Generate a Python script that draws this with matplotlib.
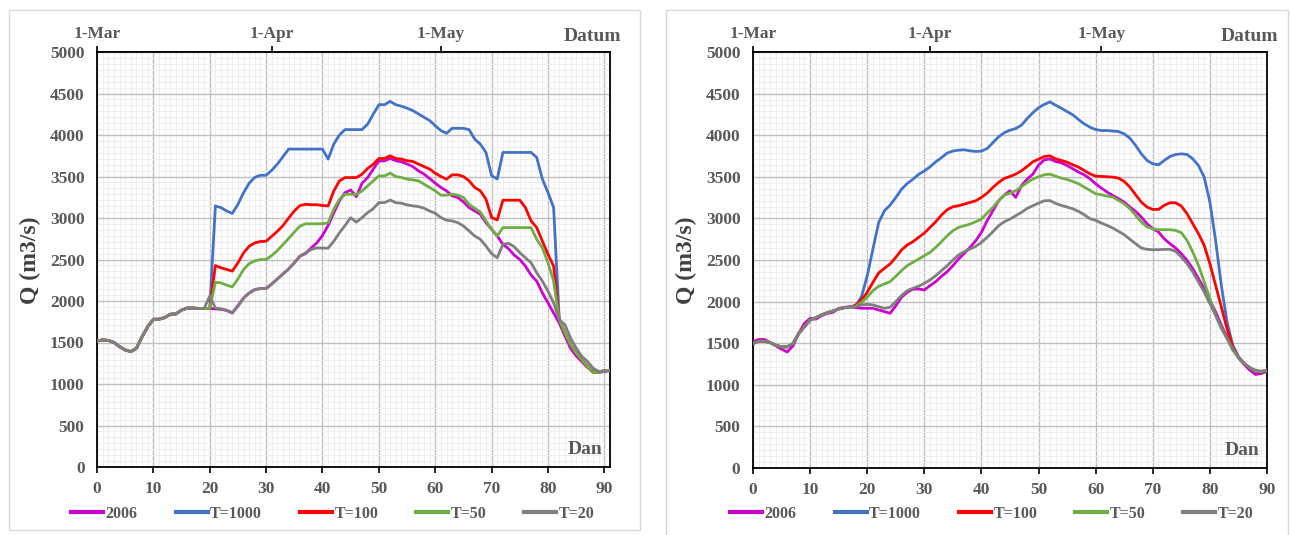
import matplotlib
matplotlib.use("Agg")
import matplotlib.pyplot as plt
from matplotlib.patches import Rectangle
from matplotlib.ticker import MultipleLocator, AutoMinorLocator
from matplotlib.lines import Line2D

# ---------------- data ----------------
series_names = ["2006", "T=1000", "T=100", "T=50", "T=20"]
series_colors = ["#CC00CC", "#4472C4", "#FF0000", "#70AD47", "#7F7F7F"]

top_tick_days = [0, 31, 61]
top_tick_labels = ["1-Mar", "1-Apr", "1-May"]
y_ticks = [0, 500, 1000, 1500, 2000, 2500, 3000, 3500, 4000, 4500, 5000]
x_ticks = [0, 10, 20, 30, 40, 50, 60, 70, 80, 90]

# Left panel (days 0..91), common start days 0..19
left_common = [1520, 1530, 1525, 1500, 1450, 1410, 1390, 1430, 1570, 1690,
               1780, 1780, 1800, 1840, 1845, 1890, 1915, 1915, 1910, 1910]
left_2006 = left_common + [
    1910, 1905, 1900, 1887, 1855, 1944, 2036, 2097, 2137, 2150, 2150,
    2205, 2266, 2326, 2387, 2460, 2540, 2572, 2640, 2700, 2790,
    2910, 3064, 3205, 3306, 3338, 3257, 3418, 3487, 3588, 3688,
    3688, 3717, 3690, 3678, 3650, 3621, 3569, 3529, 3476, 3420,
    3368, 3327, 3267, 3247, 3194, 3125, 3085, 3045, 2944, 2864,
    2783, 2683, 2630, 2554, 2500, 2420, 2312, 2240, 2098, 1977,
    1856, 1735, 1580, 1430, 1340, 1270, 1200, 1150, 1140, 1150, 1160]
left_t1000 = left_common + [
    1910, 3145, 3125, 3085, 3055, 3165, 3305, 3420, 3490, 3515, 3515,
    3575, 3650, 3740, 3830, 3830, 3830, 3830, 3830, 3830, 3830,
    3710, 3890, 4000, 4065, 4065, 4065, 4065, 4130, 4250, 4365,
    4365, 4405, 4365, 4347, 4323, 4295, 4254, 4214, 4174, 4113,
    4053, 4020, 4081, 4081, 4080, 4065, 3950, 3890, 3790, 3510,
    3470, 3790, 3790, 3790, 3790, 3790, 3790, 3730, 3470, 3307,
    3125, 1775, 1614, 1473, 1373, 1292, 1211, 1140, 1140, 1165, 1160]
left_t100 = left_common + [
    1910, 2427, 2400, 2380, 2360, 2460, 2580, 2660, 2700, 2717, 2720,
    2780, 2840, 2910, 3000, 3085, 3150, 3165, 3160, 3160, 3150,
    3145, 3325, 3447, 3487, 3487, 3487, 3527, 3596, 3648, 3717,
    3717, 3750, 3717, 3710, 3690, 3682, 3650, 3620, 3590, 3540,
    3500, 3468, 3520, 3520, 3500, 3448, 3368, 3327, 3226, 3005,
    2977, 3214, 3214, 3214, 3214, 3125, 2965, 2884, 2723, 2562,
    2420, 1775, 1614, 1473, 1373, 1292, 1211, 1140, 1140, 1165, 1160]
left_t50 = left_common + [
    1910, 2226, 2218, 2190, 2170, 2266, 2380, 2450, 2484, 2500, 2500,
    2548, 2608, 2681, 2754, 2830, 2903, 2930, 2930, 2930, 2930,
    2943, 3104, 3225, 3285, 3285, 3285, 3325, 3386, 3447, 3507,
    3507, 3540, 3500, 3488, 3468, 3460, 3448, 3408, 3368, 3327,
    3275, 3275, 3287, 3275, 3247, 3166, 3118, 3073, 2965, 2864,
    2783, 2884, 2884, 2884, 2884, 2884, 2884, 2743, 2642, 2460,
    2240, 1775, 1614, 1473, 1373, 1292, 1211, 1140, 1140, 1165, 1160]
left_t20 = left_common + [
    2060, 1915, 1907, 1887, 1863, 1935, 2036, 2097, 2137, 2150, 2150,
    2205, 2266, 2326, 2387, 2460, 2540, 2580, 2620, 2640, 2637,
    2637, 2720, 2822, 2910, 3003, 2950, 3003, 3064, 3112, 3185,
    3185, 3217, 3185, 3178, 3158, 3146, 3138, 3118, 3085, 3057,
    3005, 2973, 2965, 2944, 2904, 2844, 2783, 2743, 2662, 2570,
    2521, 2683, 2695, 2654, 2582, 2521, 2460, 2340, 2240, 2118,
    1977, 1775, 1715, 1554, 1433, 1333, 1272, 1191, 1151, 1151, 1171]
left_days = list(range(len(left_2006)))

# Right panel (days 0..90), common start days 0..17 for T-series
right_common = [1496, 1524, 1524, 1508, 1476, 1456, 1456, 1496, 1617, 1698,
                1778, 1806, 1839, 1867, 1887, 1911, 1927, 1931]
right_2006 = [
    1516, 1545, 1545, 1508, 1468, 1428, 1395, 1468, 1617, 1738,
    1798, 1790, 1830, 1859, 1871, 1919, 1931, 1940, 1927, 1920,
    1920, 1920, 1900, 1880, 1860, 1950, 2052, 2112, 2150, 2152,
    2140, 2192, 2240, 2304, 2360, 2432, 2512, 2580, 2652, 2732,
    2832, 2972, 3092, 3212, 3280, 3332, 3252, 3392, 3472, 3532,
    3640, 3704, 3714, 3684, 3668, 3636, 3596, 3556, 3524, 3476,
    3416, 3364, 3316, 3276, 3236, 3196, 3136, 3084, 3016, 2936,
    2876, 2836, 2756, 2696, 2644, 2576, 2496, 2396, 2276, 2156,
    2016, 1876, 1716, 1576, 1436, 1324, 1244, 1176, 1124, 1136, 1164]
right_t1000 = right_common + [
    1950, 2060, 2310, 2630, 2950, 3090, 3160, 3250, 3350, 3420, 3470, 3530,
    3570, 3620, 3680, 3730, 3785, 3810, 3820, 3825, 3812, 3805,
    3808, 3840, 3910, 3980, 4030, 4060, 4080, 4120, 4200, 4270,
    4330, 4370, 4400, 4360, 4324, 4284, 4244, 4188, 4136, 4096,
    4068, 4056, 4056, 4050, 4044, 4016, 3964, 3876, 3776, 3696,
    3656, 3644, 3696, 3744, 3768, 3776, 3768, 3716, 3636, 3496,
    3196, 2736, 2196, 1756, 1476, 1336, 1256, 1204, 1164, 1156, 1176]
right_t100 = right_common + [
    1960, 2020, 2112, 2232, 2344, 2400, 2452, 2532, 2620, 2680, 2720, 2772,
    2824, 2892, 2960, 3040, 3104, 3140, 3152, 3172, 3192, 3212,
    3252, 3304, 3372, 3432, 3480, 3504, 3532, 3572, 3624, 3680,
    3712, 3744, 3752, 3716, 3696, 3676, 3644, 3616, 3576, 3536,
    3508, 3505, 3500, 3496, 3484, 3444, 3376, 3284, 3196, 3136,
    3108, 3108, 3156, 3188, 3188, 3148, 3056, 2936, 2816, 2676,
    2456, 2196, 1936, 1676, 1456, 1336, 1256, 1204, 1164, 1156, 1176]
right_t50 = right_common + [
    1945, 1990, 2052, 2132, 2184, 2212, 2240, 2304, 2372, 2432, 2472, 2512,
    2552, 2592, 2652, 2720, 2792, 2852, 2892, 2912, 2932, 2960,
    2992, 3064, 3132, 3212, 3280, 3304, 3332, 3380, 3432, 3472,
    3500, 3525, 3532, 3508, 3484, 3468, 3444, 3416, 3376, 3336,
    3296, 3284, 3268, 3256, 3216, 3176, 3116, 3036, 2956, 2896,
    2876, 2864, 2864, 2864, 2856, 2828, 2736, 2596, 2436, 2236,
    2036, 1836, 1676, 1556, 1416, 1330, 1256, 1204, 1164, 1156, 1176]
right_t20 = right_common + [
    1940, 1960, 1968, 1960, 1940, 1920, 1932, 2000, 2072, 2132, 2160, 2184,
    2220, 2260, 2312, 2372, 2432, 2500, 2560, 2600, 2632, 2664,
    2712, 2772, 2840, 2912, 2960, 2992, 3032, 3072, 3120, 3152,
    3184, 3212, 3214, 3180, 3156, 3136, 3116, 3084, 3044, 2996,
    2976, 2944, 2916, 2884, 2844, 2804, 2748, 2696, 2644, 2628,
    2624, 2624, 2628, 2628, 2604, 2536, 2456, 2356, 2236, 2116,
    1976, 1836, 1696, 1556, 1436, 1336, 1256, 1204, 1176, 1164, 1176]
right_days = list(range(len(right_2006)))

# ---------------- figure ----------------
W, H = 1290, 535
fig = plt.figure(figsize=(W / 100, H / 100), dpi=100)
fig.patch.set_facecolor("white")

SERIF = ["Liberation Serif", "DejaVu Serif"]
TXT = "#595959"

def px_rect(x0, x1, ytop, ybot):
    return [x0 / W, 1 - ybot / H, (x1 - x0) / W, (ybot - ytop) / H]

# panel borders
fig.patches.append(Rectangle((9 / W, 1 - 530 / H), (640 - 9) / W, (530 - 10) / H,
                             transform=fig.transFigure, fill=False,
                             ec="#D9D9D9", lw=1.0))
fig.patches.append(Rectangle((666 / W, 1 - 545 / H), (1288 - 666) / W, (545 - 10) / H,
                             transform=fig.transFigure, fill=False,
                             ec="#D9D9D9", lw=1.0))

panels = [
    dict(rect=px_rect(97, 610, 52, 467), xmax=91, days=left_days,
         data=[left_2006, left_t1000, left_t100, left_t50, left_t20],
         datum_x=621, leg_cx=333, ylab_x=30),
    dict(rect=px_rect(753, 1267, 52, 468), xmax=90, days=right_days,
         data=[right_2006, right_t1000, right_t100, right_t50, right_t20],
         datum_x=1278, leg_cx=992, ylab_x=686),
]

for p in panels:
    ax = fig.add_axes(p["rect"])
    for vals, col in zip(p["data"], series_colors):
        ax.plot(p["days"], vals, color=col, lw=2.0, solid_joinstyle="round",
                zorder=3)
    ax.set_xlim(0, p["xmax"])
    ax.set_ylim(0, 5000)
    ax.set_xticks(x_ticks)
    ax.set_yticks(y_ticks)
    ax.xaxis.set_minor_locator(MultipleLocator(1))
    ax.yaxis.set_minor_locator(AutoMinorLocator(7))
    ax.grid(which="major", color="#BFBFBF", lw=1.0, zorder=1)
    ax.grid(which="minor", color="#EEEEEE", lw=0.8, zorder=0)
    ax.set_axisbelow(True)
    for s in ax.spines.values():
        s.set_color("black")
        s.set_linewidth(1.3)
    ax.tick_params(axis="both", which="minor", length=0)
    ax.tick_params(axis="y", which="major", length=0, pad=9)
    ax.tick_params(axis="x", which="major", length=4, width=1.2, pad=6,
                   direction="out")
    for lab in ax.get_xticklabels() + ax.get_yticklabels():
        lab.set_fontfamily(SERIF)
        lab.set_fontweight("bold")
        lab.set_fontsize(12.5)
        lab.set_color(TXT)

    sec = ax.secondary_xaxis("top")
    sec.set_xticks(top_tick_days)
    sec.set_xticklabels(top_tick_labels)
    sec.tick_params(axis="x", which="major", length=4, width=1.2, pad=3,
                    direction="out")
    sec.tick_params(axis="x", which="minor", length=0)
    sec.spines["top"].set_linewidth(1.3)
    for lab in sec.get_xticklabels():
        lab.set_fontfamily(SERIF)
        lab.set_fontweight("bold")
        lab.set_fontsize(12.5)
        lab.set_color(TXT)

    ax.text(0.986, 0.042, "Dan", transform=ax.transAxes, ha="right",
            va="center", fontsize=14, fontweight="bold", family=SERIF,
            color=TXT, zorder=5)
    fig.text(p["datum_x"] / W, 1 - 37 / H, "Datum", ha="right", va="center",
             fontsize=14, fontweight="bold", family=SERIF, color=TXT)
    fig.text(p["ylab_x"] / W, 1 - 260 / H, "Q (m3/s)", rotation=90,
             ha="center", va="center", fontsize=17, fontweight="bold",
             family=SERIF, color="#404040")

    handles = [Line2D([], [], color=c, lw=3.0) for c in series_colors]
    leg = fig.legend(handles, series_names, loc="center",
                     bbox_to_anchor=(p["leg_cx"] / W, 1 - 514 / H),
                     ncol=5, frameon=False, handlelength=2.0,
                     handletextpad=0.15, columnspacing=2.38,
                     prop=dict(family=SERIF, weight="bold", size=11.5))
    for t in leg.get_texts():
        t.set_color(TXT)

fig.savefig("out.png", dpi=100, facecolor="white")
